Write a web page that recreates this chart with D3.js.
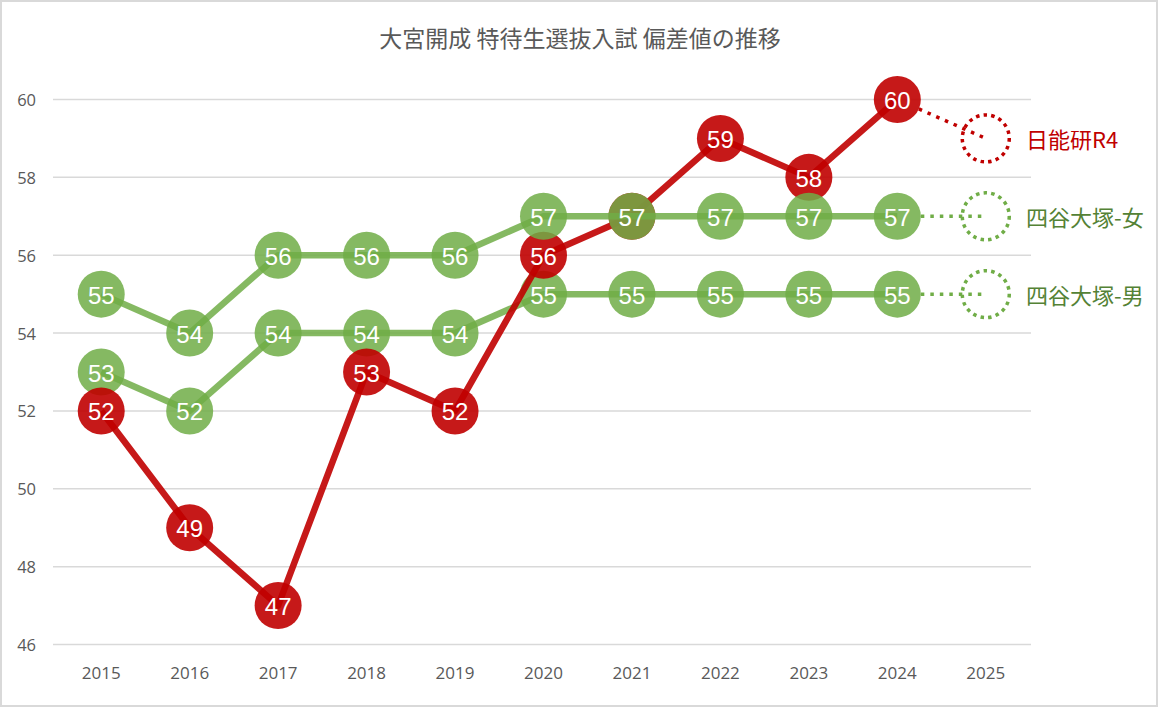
<!DOCTYPE html>
<html>
<head>
<meta charset="utf-8">
<script src="https://cdn.jsdelivr.net/npm/d3@7"></script>
<style>
  html, body { margin: 0; padding: 0; background: #fff; }
  svg { display: block; }
</style>
</head>
<body>
<script>
// years on the x axis, last one is the forecast
var years = ["2015","2016","2017","2018","2019","2020","2021","2022","2023","2024","2025"];
var yTicks = [46, 48, 50, 52, 54, 56, 58, 60];

// 偏差値 per year (2025 = forecast, drawn dotted)
var boysYotsuya  = [53, 52, 54, 54, 54, 55, 55, 55, 55, 55, 55];
var nichinoken   = [52, 49, 47, 53, 52, 56, 57, 59, 58, 60, 59];
var girlsYotsuya = [55, 54, 56, 56, 56, 57, 57, 57, 57, 57, 57];

var seriesNames = ["四谷大塚-男", "日能研R4", "四谷大塚-女"];
var titleText = "大宮開成 特待生選抜入試 偏差値の推移";

(function(){

  var width = 1160, height = 708;
  var svg = d3.select("body").append("svg")
      .attr("width", width)
      .attr("height", height);

  // outer chart border
  svg.append("rect")
    .attr("x", 1).attr("y", 1)
    .attr("width", width - 4).attr("height", height - 3)
    .attr("fill", "#fff")
    .attr("stroke", "#d9d9d9")
    .attr("stroke-width", 2);

  var x = d3.scaleBand().domain(years).range([57, 1030]).padding(0);
  var y = d3.scaleLinear().domain([46, 60]).range([644.5, 99.5]);
  function cx(d, i){ return x(years[i]) + x.bandwidth()/2; }

  // title
  svg.append("text")
    .attr("x", 580).attr("y", 37)
    .attr("text-anchor", "middle")
    .attr("dominant-baseline", "central")
    .style("font-family", "'Noto Sans CJK JP', sans-serif")
    .style("font-size", "23px")
    .style("fill", "#595959")
    .text(titleText);

  // gridlines
  svg.append("g").selectAll("line")
    .data(yTicks).enter().append("line")
    .attr("x1", 53).attr("x2", 1031)
    .attr("y1", function(d){ return y(d); })
    .attr("y2", function(d){ return y(d); })
    .attr("stroke", "#d9d9d9")
    .attr("stroke-width", 1.5);

  // y tick labels
  svg.append("g").selectAll("text")
    .data(yTicks).enter().append("text")
    .attr("x", 36)
    .attr("y", function(d){ return y(d); })
    .attr("text-anchor", "end")
    .attr("dominant-baseline", "central")
    .style("font-family", "'Open Sans', sans-serif")
    .style("font-size", "16.5px")
    .style("fill", "#595959")
    .text(function(d){ return d; });

  // x tick labels
  svg.append("g").selectAll("text")
    .data(years).enter().append("text")
    .attr("x", function(d){ return x(d) + x.bandwidth()/2; })
    .attr("y", 672)
    .attr("text-anchor", "middle")
    .attr("dominant-baseline", "central")
    .style("font-family", "'Open Sans', sans-serif")
    .style("font-size", "17px")
    .style("fill", "#595959")
    .text(function(d){ return d; });

  var series = [
    {name: seriesNames[0], values: boysYotsuya,  color: "#70ad47", text: "#548235", alpha: 0.85},
    {name: seriesNames[1], values: nichinoken,   color: "#c00000", text: "#c00000", alpha: 0.9},
    {name: seriesNames[2], values: girlsYotsuya, color: "#70ad47", text: "#548235", alpha: 0.85}
  ];

  var line = d3.line()
    .x(function(d){ return d.x; })
    .y(function(d){ return d.y; });

  var r = 23.5;
  var last = years.length - 1;

  series.forEach(function(s){
    var pts = s.values.map(function(v, i){ return {x: cx(v, i), y: y(v), v: v}; });
    var g = svg.append("g");

    // solid line for actual years
    g.append("path")
      .datum(pts.slice(0, last))
      .attr("d", line)
      .attr("fill", "none")
      .attr("stroke", s.color)
      .attr("stroke-opacity", s.alpha)
      .attr("stroke-width", 6.5)
      .attr("stroke-linejoin", "round");

    // dotted forecast segment, starting at the edge of the 2024 marker
    var a = pts[last-1], b = pts[last];
    var len = Math.hypot(b.x - a.x, b.y - a.y);
    g.append("path")
      .datum([{x: a.x + (b.x - a.x) * r / len, y: a.y + (b.y - a.y) * r / len}, b])
      .attr("d", line)
      .attr("fill", "none")
      .attr("stroke", s.color)
      .attr("stroke-width", 3.5)
      .attr("stroke-dasharray", "3.5 6");

    // forecast hollow dotted marker
    g.append("circle")
      .attr("cx", b.x).attr("cy", b.y)
      .attr("r", r)
      .attr("fill", "none")
      .attr("stroke", s.color)
      .attr("stroke-width", 3.5)
      .attr("stroke-dasharray", "3.5 4.2");

    // markers
    g.selectAll("circle.m")
      .data(pts.slice(0, last)).enter().append("circle")
      .attr("class", "m")
      .attr("cx", function(d){ return d.x; })
      .attr("cy", function(d){ return d.y; })
      .attr("r", r)
      .attr("fill", s.color)
      .attr("fill-opacity", s.alpha);

    // value labels
    g.selectAll("text.v")
      .data(pts.slice(0, last)).enter().append("text")
      .attr("class", "v")
      .attr("x", function(d){ return d.x; })
      .attr("y", function(d){ return d.y + 1; })
      .attr("text-anchor", "middle")
      .attr("dominant-baseline", "central")
      .style("font-family", "'Liberation Sans', Arial, sans-serif")
      .style("font-size", "24px")
      .style("fill", "#fff")
      .text(function(d){ return d.v; });

    // series name to the right of the forecast marker
    g.append("text")
      .attr("x", 1026)
      .attr("y", b.y)
      .attr("dominant-baseline", "central")
      .style("font-family", "'Noto Sans CJK JP', sans-serif")
      .style("font-size", "22px")
      .style("fill", s.text)
      .text(s.name);
  });

})();
</script>
</body>
</html>
